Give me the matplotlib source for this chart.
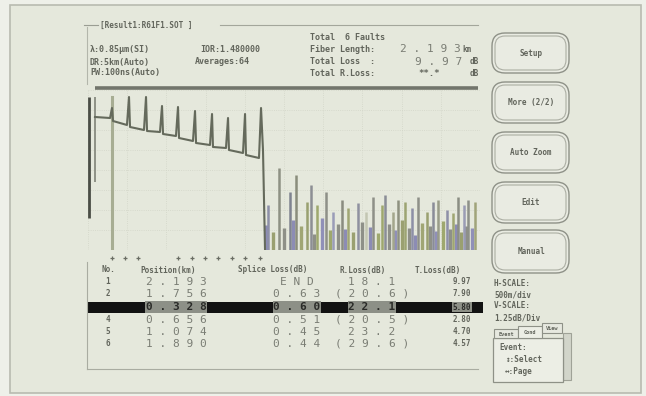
import numpy as np
import matplotlib
matplotlib.use('Agg')
import matplotlib.pyplot as plt
from matplotlib.patches import Rectangle, FancyBboxPatch

W, H = 646, 396

# ---- trace data: distance (km) / level (dB) ----
trace_km = [0.089, 0.281, 0.306, 0.319, 0.497, 0.523, 0.536, 0.714, 0.740, 0.753,
            0.918, 0.944, 0.957, 1.122, 1.148, 1.161, 1.339, 1.365, 1.378, 1.556,
            1.582, 1.594, 1.760, 1.786, 1.798, 1.977, 2.003, 2.015, 2.181, 2.207,
            2.232, 2.245, 2.258]
trace_db = [13.3, 13.2, 14.2, 12.9, 12.5, 15.3, 12.3, 12.0, 15.3, 11.9,
            11.8, 14.4, 11.6, 11.4, 14.3, 11.2, 10.9, 13.9, 10.7, 10.5,
            13.6, 10.3, 10.2, 13.2, 10.0, 9.7, 13.6, 9.5, 9.2, 14.2,
            10.0, 5.0, 0.0]
lead_km = [0.019, 0.089]
lead_top = [15.3, 15.3]
lead_bot = [3.2, 6.8]
cursor_km = 0.306

noise_km = [2.30, 2.43, 2.58, 2.65, 2.79, 2.85, 2.92, 3.04, 3.13, 3.24,
            3.32, 3.45, 3.55, 3.64, 3.75, 3.79, 3.89, 3.96, 4.04, 4.13,
            4.21, 4.32, 4.40, 4.47, 4.58, 4.66, 4.72, 4.79, 4.85, 4.94]
noise_db = [4.5, 8.2, 5.8, 7.5, 4.8, 6.5, 4.5, 5.8, 3.8, 5.0,
            4.2, 4.7, 3.8, 5.3, 4.5, 5.5, 3.8, 5.0, 4.8, 4.2,
            5.3, 3.8, 4.8, 5.0, 4.0, 3.7, 5.3, 4.5, 5.0, 4.8]
noise_col = ['#8d8fa8', '#8e9184', '#7f8390', '#8a8d7c', '#99a070', '#8c8e94',
             '#9ea86e', '#8e9088', '#9a9cb8', '#8a8c80', '#a0a674', '#8f91a0',
             '#c3c6b2', '#8e9088', '#9ea76e', '#8a8d96', '#a3a68c', '#8e9180',
             '#9ca472', '#8d8fa6', '#8e9088', '#9aa070', '#8a8c98', '#999c88',
             '#8e90a8', '#9fa672', '#8b8e84', '#9a9cb4', '#8d9088', '#a0a47a']
fill_km = [2.27, 2.36, 2.50, 2.62, 2.72, 2.88, 2.98, 3.09, 3.19, 3.28,
           3.38, 3.50, 3.60, 3.70, 3.84, 3.92, 4.00, 4.09, 4.17, 4.26,
           4.36, 4.44, 4.53, 4.62, 4.69, 4.76, 4.82, 4.90]
fill_db = [2.5, 1.8, 2.2, 3.0, 2.4, 1.6, 3.2, 2.0, 2.6, 2.1,
           1.8, 2.8, 2.3, 1.7, 2.6, 2.0, 3.0, 2.2, 1.5, 2.7,
           2.4, 1.9, 2.9, 2.1, 2.6, 1.8, 2.4, 2.2]
fill_col = ['#8c8cb6', '#9aa070', '#8e9088', '#8c8cb4', '#a0a674', '#8e9088',
            '#9090b8', '#9ea86e', '#8e9088', '#8c8cb4', '#9aa070', '#8e9088',
            '#8c8cb4', '#9ea86e', '#8e9088', '#9090b8', '#9aa070', '#8e9088',
            '#8c8cb4', '#a0a674', '#8e9088', '#9090b8', '#9ea86e', '#8e9088',
            '#8c8cb4', '#9aa070', '#8e9088', '#9090b8']
event_km = [0.306, 0.472, 0.638, 1.148, 1.327, 1.492, 1.658, 1.837, 2.003, 2.194]

# ---- event table ----
ev_no = ['1', '2', '3', '4', '5', '6']
ev_pos = ['2.193', '1.756', '0.328', '0.656', '1.074', '1.890']
ev_splice = ['END', '0.63', '0.60', '0.51', '0.45', '0.44']
ev_rloss = ['18.1', '(20.6)', '22.1', '(20.5)', '23.2', '(29.6)']
ev_tloss = ['9.97', '7.90', '5.80', '2.80', '4.70', '4.57']
selected = 2

buttons = ['Setup', 'More (2/2)', 'Auto Zoom', 'Edit', 'Manual']

BG = '#e5e8dc'
TXT = '#62655c'
BIG = '#7a7d74'
MONO = ['DejaVu Sans Mono', 'DejaVu Sans']


def spaced(s):
    return ' '.join(s)


fig = plt.figure(figsize=(W / 100, H / 100), dpi=100, facecolor='#eef0e9')
bg = fig.add_axes([0, 0, 1, 1])
bg.set_xlim(0, W)
bg.set_ylim(H, 0)
bg.axis('off')


def txt(x, y, s, size=6, ha='left', color=TXT, weight='bold', **kw):
    bg.text(x, y, s, fontsize=size, ha=ha, va='center', color=color,
            family=MONO, fontweight=weight, **kw)


# screen frame
bg.add_patch(Rectangle((10, 5), 631, 388, fc=BG, ec='#b8bbb0', lw=1.2))

# header box
bg.plot([84, 98], [25, 25], color='#9a9d93', lw=0.8)
bg.plot([220, 478], [25, 25], color='#a3a69b', lw=0.8)
bg.plot([87, 87], [27, 84], color='#b3b6ab', lw=0.8)
txt(100, 25, '[Result1:R61F1.SOT ]', size=5.5)
txt(90, 49, 'λ:0.85μm(SI)')
txt(90, 62, 'DR:5km(Auto)')
txt(90, 73, 'PW:100ns(Auto)')
txt(200, 49, 'IOR:1.480000')
txt(195, 62, 'Averages:64')
txt(310, 38, 'Total  6 Faults')
txt(310, 49, 'Fiber Length:')
txt(310, 62, 'Total Loss  :')
txt(310, 73, 'Total R.Loss:')
txt(461, 49, spaced('2.193'), size=8, ha='right', color=BIG, weight='normal')
txt(462, 49, 'km', size=5.5)
txt(462, 62, spaced('9.97'), size=8, ha='right', color=BIG, weight='normal')
txt(470, 62, 'dB', size=5.5)
txt(440, 73, '**.*', size=6.5, ha='right')
txt(470, 73, 'dB', size=5.5)
bg.plot([95, 478], [88, 88], color='#72756c', lw=2.6, solid_capstyle='butt')

# ---- trace area ----
ax = fig.add_axes([88 / W, 1 - 250 / H, (480 - 88) / W, (250 - 90) / H])
ax.set_xlim(0, 5)
ax.set_ylim(0, 16)
ax.patch.set_alpha(0)
for sp in ax.spines.values():
    sp.set_visible(False)
ax.set_xticks(np.arange(0, 5.01, 0.5))
ax.set_yticks(np.arange(0, 16.1, 2))
ax.tick_params(length=0, labelbottom=False, labelleft=False)
ax.grid(True, color='#d2d5c8', linestyle=':', lw=0.6)

ax.vlines(fill_km, 0, fill_db, colors=fill_col, lw=2.4)
ax.vlines(noise_km, 0, noise_db, colors=noise_col, lw=1.8)
ax.axvline(cursor_km, ymax=15.3 / 16, color='#a7ad93', lw=2.2)
ax.vlines(lead_km, lead_bot, lead_top, colors=['#4a4d45', '#8e9186'], lw=[2.0, 1.4])
ax.plot(trace_km, trace_db, color='#656a5c', lw=1.5)
ax.plot(event_km, [-0.8] * len(event_km), '+', ms=3, mew=0.9, color='#6a6d64',
        clip_on=False)

# ---- event table ----
bg.plot([87, 87], [262, 369], color='#a9aca1', lw=0.8)
bg.plot([87, 478], [369, 369], color='#a9aca1', lw=0.8)
txt(102, 270, 'No.', size=5.5)
txt(140, 270, 'Position(km)', size=5.5)
txt(238, 270, 'Splice Loss(dB)', size=5.5)
txt(340, 270, 'R.Loss(dB)', size=5.5)
txt(415, 270, 'T.Loss(dB)', size=5.5)
row_y = [282, 294, 307, 320, 332, 344]
for i, y in enumerate(row_y):
    if i == selected:
        bg.add_patch(Rectangle((88, y - 5.5), 395, 11, fc='#121212', ec='none'))
        box = dict(fc='#8d9087', ec='none', pad=0.5)
        col = '#2a2b28'
        for xx, s, sz, ha in [(176, spaced(ev_pos[i]), 8, 'center'),
                              (297, spaced(ev_splice[i]), 8, 'center'),
                              (372, spaced(ev_rloss[i]), 8, 'center'),
                              (471, ev_tloss[i], 5.5, 'right')]:
            bg.text(xx, y, s, fontsize=sz, ha=ha, va='center', color=col,
                    family=MONO, fontweight='bold', bbox=box)
        continue
    txt(108, y, ev_no[i], size=5.5, ha='center')
    txt(176, y, spaced(ev_pos[i]), size=8, ha='center', color=BIG, weight='normal')
    txt(297, y, spaced(ev_splice[i]), size=8, ha='center', color=BIG, weight='normal')
    txt(372, y, spaced(ev_rloss[i]), size=8, ha='center', color=BIG, weight='normal')
    txt(471, y, ev_tloss[i], size=5.5, ha='right')

# ---- soft keys ----
btn_top = [33, 82, 132, 182, 230]
btn_bot = [73, 123, 173, 223, 273]
for lab, t, b in zip(buttons, btn_top, btn_bot):
    bg.add_patch(FancyBboxPatch((492, t), 77, b - t,
                                boxstyle='round,pad=0,rounding_size=13',
                                fc='#e9ebe2', ec='#8e9187', lw=1.0))
    bg.add_patch(FancyBboxPatch((495, t + 3), 71, b - t - 6,
                                boxstyle='round,pad=0,rounding_size=10',
                                fc='none', ec='#abaea3', lw=0.8))
    txt(531, (t + b) / 2, lab, size=5.5, ha='center')

txt(494, 283, 'H-SCALE:', size=5.5)
txt(494, 295, '500m/div', size=5.5)
txt(494, 306, 'V-SCALE:', size=5.5)
txt(494, 318, '1.25dB/Div', size=5.5)

# tab panel
bg.add_patch(Rectangle((563, 333), 8, 47, fc='#d2d5ca', ec='#9fa297', lw=0.8))
bg.add_patch(Rectangle((493, 338), 70, 44, fc='#eceee5', ec='#8e9187', lw=0.9))
bg.add_patch(Rectangle((494, 329), 24, 9, fc='#e6e8df', ec='#8e9187', lw=0.8))
bg.add_patch(Rectangle((518, 326), 24, 12, fc='#eceee5', ec='#8e9187', lw=0.8))
bg.add_patch(Rectangle((542, 323), 20, 10, fc='#e6e8df', ec='#8e9187', lw=0.8))
txt(506, 334, 'Event', size=3.8, ha='center')
txt(530, 332, 'Cond', size=3.8, ha='center')
txt(552, 328, 'View', size=3.8, ha='center')
txt(499, 348, 'Event:', size=5.5)
txt(505, 360, '↕:Select', size=5.5)
txt(505, 372, '↔:Page', size=5.5)

fig.savefig('out.png', dpi=100, facecolor=fig.get_facecolor())
